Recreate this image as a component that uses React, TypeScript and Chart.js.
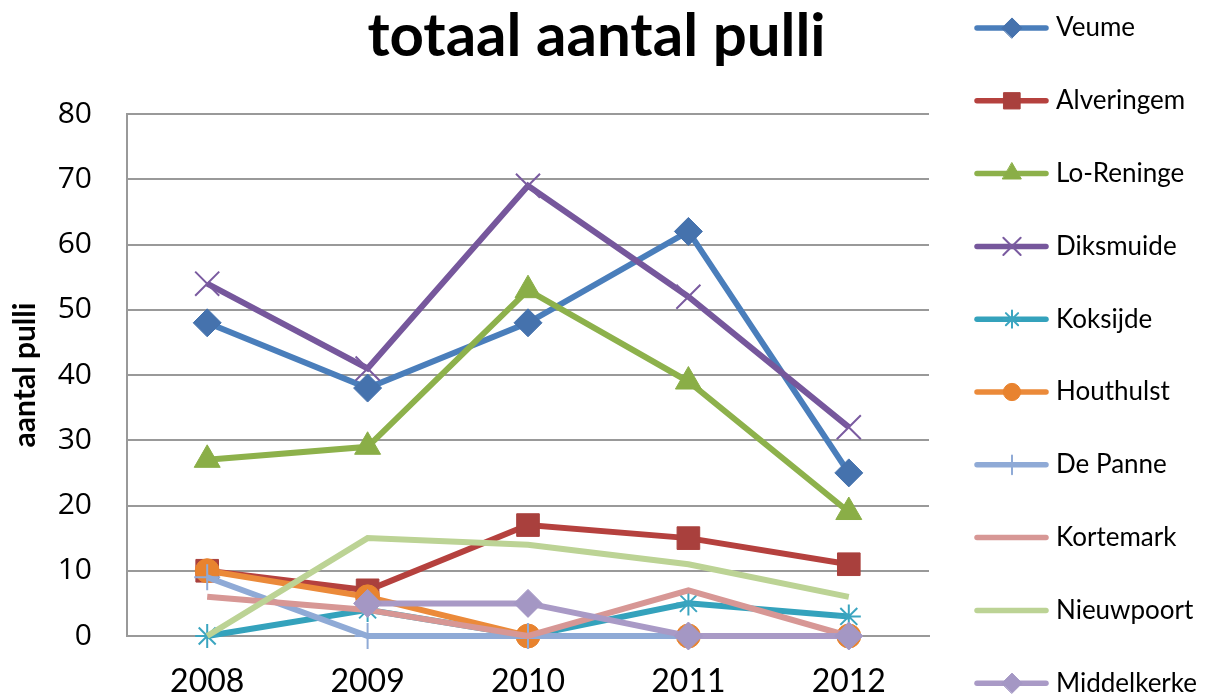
import React, { useEffect, useRef } from 'react';
import { Chart, registerables } from 'chart.js';
import { drawPoint } from 'chart.js/helpers';

Chart.register(...registerables);

const years = ['2008', '2009', '2010', '2011', '2012'];
const yTicks = [0, 10, 20, 30, 40, 50, 60, 70, 80];

const veume = [48, 38, 48, 62, 25];
const alveringem = [10, 7, 17, 15, 11];
const loReninge = [27, 29, 53, 39, 19];
const diksmuide = [54, 41, 69, 52, 32];
const koksijde = [0, 4, 0, 5, 3];
const houthulst = [10, 6, 0, 0, 0];
const dePanne = [9, 0, 0, 0, 0];
const kortemark = [6, 4, 0, 7, 0];
const nieuwpoort = [0, 15, 14, 11, 6];
const middelkerke = [null, 5, 5, 0, 0];

const seriesNames = ['Veume', 'Alveringem', 'Lo-Reninge', 'Diksmuide', 'Koksijde', 'Houthulst', 'De Panne', 'Kortemark', 'Nieuwpoort', 'Middelkerke'];
const seriesValues = [veume, alveringem, loReninge, diksmuide, koksijde, houthulst, dePanne, kortemark, nieuwpoort, middelkerke];
const lineColors = ['#4A7EBB', '#B5413E', '#8DB14B', '#76579C', '#34A2BC', '#EB8A3A', '#8FAAD6', '#D79795', '#BCD395', '#A99AC6'];
const markerColors = ['#4572AD', '#A9403D', '#8AAE47', '#7A5BA0', '#3BA5C0', '#E8832F', '#8FAAD6', '#D79795', '#BCD395', '#A497C4'];
const markerStyles = ['rectRot', 'rect', 'triangle', 'crossRot', 'star', 'circle', 'cross', 'circle', 'circle', 'rectRot'];
const markerRadii = [14, 16, 15, 17, 12, 12, 13, 0, 0, 14];
const markerBorders = [1, 1, 1, 2, 2, 1, 2, 1, 1, 1];

const FONT = 'Lato, "Open Sans", sans-serif';

const legendPlugin = {
  id: 'sideLegend',
  afterDraw(chart: any) {
    const ctx = chart.ctx;
    ctx.save();
    const top = 28;
    const step = 72.8;
    chart.data.datasets.forEach((ds: any, i: number) => {
      const y = top + i * step;
      ctx.strokeStyle = ds.borderColor;
      ctx.lineWidth = 5.5;
      ctx.lineCap = 'round';
      ctx.beginPath();
      ctx.moveTo(977, y);
      ctx.lineTo(1046, y);
      ctx.stroke();
      if (ds.pointRadius > 0) {
        ctx.fillStyle = ds.pointBackgroundColor;
        ctx.strokeStyle = ds.pointBorderColor;
        ctx.lineWidth = ds.pointBorderWidth;
        drawPoint(ctx, { pointStyle: ds.pointStyle, radius: ds.pointRadius * 0.72, rotation: 0, borderWidth: ds.pointBorderWidth } as any, 1012, y);
      }
      ctx.fillStyle = '#000';
      ctx.font = '26px ' + FONT;
      ctx.textBaseline = 'middle';
      ctx.textAlign = 'left';
      ctx.fillText(ds.label, 1056, y);
    });
    ctx.restore();
  },
};

export default function App() {
  const ref = useRef<HTMLCanvasElement | null>(null);
  useEffect(() => {
    document.body.style.margin = '0';
    const datasets = seriesNames.map((name, i) => ({
      label: name,
      data: seriesValues[i],
      borderColor: lineColors[i],
      backgroundColor: markerColors[i],
      borderWidth: 6,
      pointStyle: markerStyles[i],
      pointRadius: markerRadii[i],
      pointBackgroundColor: markerColors[i],
      pointBorderColor: markerColors[i],
      pointBorderWidth: markerBorders[i],
      pointHoverRadius: markerRadii[i],
      tension: 0,
      spanGaps: false,
      clip: false as any,
      order: seriesNames.length - i,
    }));
    const chart = new Chart(ref.current!, {
      type: 'line',
      data: { labels: years, datasets },
      plugins: [legendPlugin],
      options: {
        responsive: false,
        animation: false,
        events: [],
        layout: { padding: { left: 0, right: 18, top: 0, bottom: 0 } },
        plugins: {
          legend: { display: false },
          tooltip: { enabled: false },
          title: {
            display: true,
            text: 'totaal aantal pulli',
            color: '#000',
            font: { family: FONT, size: 60, weight: 'bold' },
            padding: { top: 1, bottom: 41 },
          },
        },
        scales: {
          x: {
            type: 'category',
            offset: true,
            grid: { display: false, drawTicks: false },
            border: { display: true, color: '#999', width: 2 },
            ticks: { color: '#000', font: { family: FONT, size: 32 }, padding: 26, maxRotation: 0 },
            afterFit: (s: any) => { s.height = 61; },
          },
          y: {
            min: 0,
            max: 80,
            afterBuildTicks: (s: any) => { s.ticks = yTicks.map((v) => ({ value: v })); },
            grid: { color: '#999', lineWidth: 2, drawTicks: false },
            border: { display: true, color: '#999', width: 2 },
            ticks: { color: '#000', font: { family: '"Open Sans", sans-serif', size: 30 }, padding: 35 },
            title: {
              display: true,
              text: 'aantal pulli',
              color: '#000',
              font: { family: FONT, size: 30, weight: 'bold' },
              padding: { top: 7, bottom: 0 },
            },
            afterFit: (s: any) => { s.width = 127; },
          },
          legendSpace: {
            type: 'linear',
            position: 'right',
            display: true,
            grid: { display: false, drawTicks: false },
            border: { display: false },
            ticks: { display: false },
            afterFit: (s: any) => { s.width = 264; },
          },
        },
      },
    });
    return () => chart.destroy();
  }, []);
  return (
    <div style={{ position: 'absolute', left: 0, top: 0, width: 1211, height: 697 }}>
      <canvas ref={ref} width={1211} height={697} style={{ width: 1211, height: 697 }} />
    </div>
  );
}
